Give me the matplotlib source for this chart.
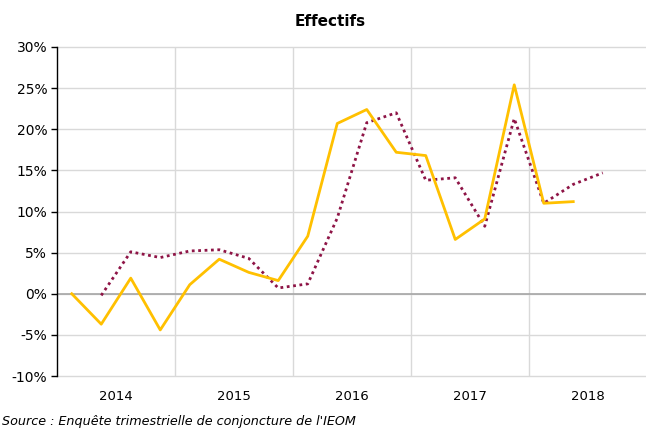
import numpy as np
import matplotlib.pyplot as plt

years = ["2014", "2015", "2016", "2017", "2018"]

# quarterly values (%), 2014T1 .. 2018T4; None = no data
effectifs = [0.0, -3.7, 1.9, -4.4,
             1.1, 4.2, 2.6, 1.6,
             7.0, 20.7, 22.4, 17.2,
             16.8, 6.6, 9.1, 25.4,
             11.0, 11.2, None, None]
tendance = [None, -0.2, 5.1, 4.4,
            5.2, 5.35, 4.3, 0.7,
            1.2, 9.2, 20.8, 22.0,
            13.8, 14.1, 8.2, 21.3,
            11.0, 13.3, 14.7, None]

def to_arr(vals):
    return np.array([np.nan if v is None else v for v in vals], dtype=float)

x = np.arange(len(effectifs)) + 0.5

plt.rcParams['font.family'] = 'DejaVu Sans'
fig = plt.figure(figsize=(6.46, 4.30), dpi=100)
ax = fig.add_axes([57 / 646, 1 - 376 / 430, 590 / 646, 329 / 430])

grid_col = '#d9d9d9'
for yv in range(-10, 31, 5):
    ax.axhline(yv, color=grid_col, lw=1, zorder=0, clip_on=False)
for xv in range(4, 20, 4):
    ax.axvline(xv, color=grid_col, lw=1, zorder=0)
ax.axhline(0, color='#a6a6a6', lw=1.2, zorder=1)

ax.plot(x, to_arr(effectifs), color='#FFC000', lw=2, zorder=3)
ax.plot(x, to_arr(tendance), color='#8E1446', lw=2, ls=(0, (1, 1.3)), zorder=2)

ax.set_xlim(0, 20)
ax.set_ylim(-10, 30)
ax.set_yticks(range(-10, 31, 5))
ax.set_yticklabels([f"{v}%" for v in range(-10, 31, 5)], fontsize=10)
ax.set_xticks([2, 6, 10, 14, 18])
ax.set_xticklabels(years, fontsize=9.5)
ax.tick_params(axis='x', length=0, pad=10)
ax.tick_params(axis='y', length=4, width=1, color='black', pad=3)

for s in ['top', 'right', 'bottom']:
    ax.spines[s].set_visible(False)
ax.spines['left'].set_color('black')
ax.spines['left'].set_linewidth(1)

fig.text(330 / 646, 1 - 22 / 430, "Effectifs", ha='center', va='center',
         fontsize=11, fontweight='bold')
fig.text(2 / 646, 1 - 422 / 430, "Source : Enquête trimestrielle de conjoncture de l'IEOM",
         ha='left', va='center', fontsize=9.2, style='italic')

fig.savefig('out.png', dpi=100)
